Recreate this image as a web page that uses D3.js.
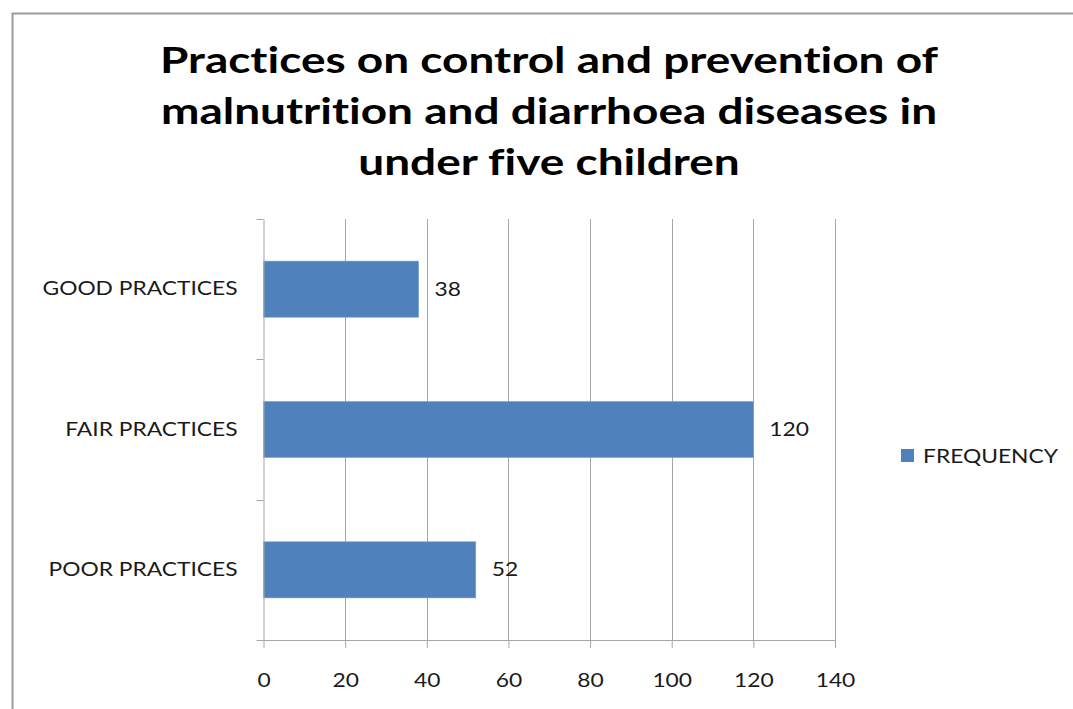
<!DOCTYPE html>
<html>
<head>
<meta charset="utf-8">
<script src="https://cdn.jsdelivr.net/npm/d3@7"></script>
<style>
  html, body { margin: 0; padding: 0; background: #fff; }
  svg { display: block; }
  text { font-variant-ligatures: none; }
</style>
</head>
<body>
<div class="chart-container"></div>
<script>
// data
const titleLines = ['Practices on control and prevention of', 'malnutrition and diarrhoea diseases in', 'under five children'];
const categories = ['GOOD PRACTICES', 'FAIR PRACTICES', 'POOR PRACTICES'];
const frequency = [38, 120, 52];
const xTicks = [0, 20, 40, 60, 80, 100, 120, 140];
const seriesName = 'FREQUENCY';

const width = 1073, height = 709;
const barColor = '#4f81bd';
const gridColor = '#a6a6a6';
const textColor = '#1a1a1a';
const font = 'Lato, "Open Sans", sans-serif';
const stretchX = 1.2;   // the original text is rendered wide

const plot = { left: 263.5, right: 835, top: 219, bottom: 640 };

// widen glyphs horizontally around each text's anchor point
function widen(sel, sx) {
  sel.attr('transform', function () {
    const ax = +this.getAttribute('x') || 0;
    return `matrix(${sx},0,0,1,${(1 - sx) * ax},0)`;
  });
}

const svg = d3.select('.chart-container')
  .append('svg')
  .attr('width', width)
  .attr('height', height);

// outer frame
svg.append('path')
  .attr('d', `M12.5,${height} V13.5 H${width}`)
  .attr('fill', 'none')
  .attr('stroke', '#9a9a9a')
  .attr('stroke-width', 2);

// title
svg.append('g')
  .selectAll('text')
  .data(titleLines)
  .enter().append('text')
  .attr('x', 549)
  .attr('y', (d, i) => 73 + i * 51)
  .attr('text-anchor', 'middle')
  .style('font-family', font)
  .style('font-weight', 700)
  .style('font-size', '36.5px')
  .style('fill', '#000')
  .text(d => d)
  .call(widen, 1.26);

const x = d3.scaleLinear()
  .domain([0, 140])
  .range([plot.left, plot.right]);

const y = d3.scaleBand()
  .domain(categories)
  .range([plot.top, plot.bottom])
  .paddingInner(0.6)
  .paddingOuter(0.3);

// vertical gridlines
svg.append('g')
  .selectAll('line')
  .data(xTicks.slice(1))
  .enter().append('line')
  .attr('x1', d => Math.round(x(d)) + 0.5)
  .attr('x2', d => Math.round(x(d)) + 0.5)
  .attr('y1', plot.top)
  .attr('y2', plot.bottom)
  .attr('stroke', gridColor)
  .attr('stroke-width', 1);

// bars
svg.append('g')
  .selectAll('rect')
  .data(categories)
  .enter().append('rect')
  .attr('x', x(0))
  .attr('y', d => y(d))
  .attr('width', (d, i) => x(frequency[i]) - x(0))
  .attr('height', y.bandwidth())
  .attr('fill', barColor)
  .attr('stroke', '#7ea3d0')
  .attr('stroke-width', 0.6);

// value labels
svg.append('g')
  .selectAll('text')
  .data(categories)
  .enter().append('text')
  .attr('x', (d, i) => x(frequency[i]) + 16)
  .attr('y', d => y(d) + y.bandwidth() / 2)
  .attr('dy', '0.35em')
  .style('font-family', font)
  .style('font-size', '19px')
  .style('fill', textColor)
  .text((d, i) => frequency[i])
  .call(widen, stretchX);

// x axis
const xAxis = svg.append('g')
  .attr('transform', `translate(0,${plot.bottom})`)
  .call(d3.axisBottom(x).tickValues(xTicks).tickSize(8).tickSizeOuter(0).tickPadding(26));
xAxis.select('.domain').attr('stroke', gridColor);
xAxis.selectAll('.tick line').attr('stroke', gridColor);
xAxis.selectAll('.tick text')
  .style('font-family', font)
  .style('font-size', '19px')
  .style('fill', textColor)
  .call(widen, stretchX);

// y axis
const yAxis = svg.append('g')
  .attr('transform', `translate(${plot.left},0)`)
  .call(d3.axisLeft(y).tickSize(0).tickPadding(26));
yAxis.select('.domain').attr('stroke', gridColor);
yAxis.selectAll('.tick text')
  .style('font-family', font)
  .style('font-size', '19px')
  .style('fill', textColor)
  .call(widen, stretchX);

// category boundary ticks
const bounds = d3.range(categories.length + 1).map(i => plot.top + i * y.step());
yAxis.append('g')
  .selectAll('line')
  .data(bounds)
  .enter().append('line')
  .attr('x1', -7)
  .attr('x2', 0)
  .attr('y1', d => Math.round(d) + 0.5)
  .attr('y2', d => Math.round(d) + 0.5)
  .attr('stroke', gridColor);

// legend
const legend = svg.append('g').attr('transform', 'translate(901,449)');
legend.append('rect')
  .attr('width', 13)
  .attr('height', 13)
  .attr('fill', barColor);
legend.append('text')
  .attr('x', 22)
  .attr('y', 7)
  .attr('dy', '0.35em')
  .style('font-family', font)
  .style('font-size', '19px')
  .style('fill', textColor)
  .text(seriesName)
  .call(widen, stretchX);
</script>
</body>
</html>
